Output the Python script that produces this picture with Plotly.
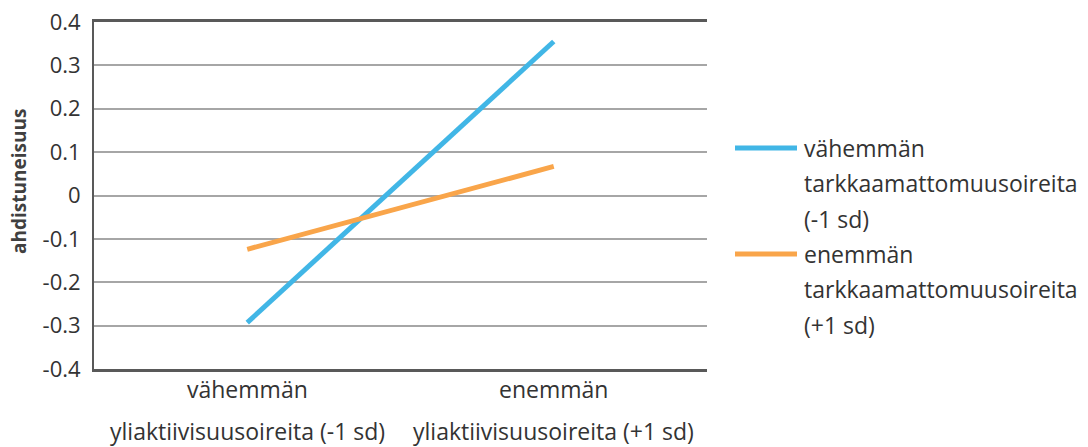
import plotly.graph_objects as go

# ---- data ----
categories = ["low_hyper", "high_hyper"]
cat_line1 = ["vähemmän", "enemmän"]
cat_line2 = ["yliaktiivisuusoireita (-1 sd)", "yliaktiivisuusoireita (+1 sd)"]
series_names = [
    ["vähemmän", "tarkkaamattomuusoireita", "(-1 sd)"],
    ["enemmän", "tarkkaamattomuusoireita", "(+1 sd)"],
]
blue_values = [-0.293, 0.355]
orange_values = [-0.124, 0.067]
y_tickvals = [0.4, 0.3, 0.2, 0.1, 0, -0.1, -0.2, -0.3, -0.4]
y_ticktext = ["0.4", "0.3", "0.2", "0.1", "0", "-0.1", "-0.2", "-0.3", "-0.4"]
y_title = "ahdistuneisuus"

colors = ["#41B6E6", "#F9A54A"]
FONT = "Open Sans"
TXT = "#333333"

W, H = 1088, 447
# target plot area in page pixels: x 94..707, y 22..369
ML, MT = 94, 22
MR = W - 707
MB = H - 369
PW, PH = W - ML - MR, H - MT - MB


def px_x(px):
    return (px - ML) / PW


def px_y(py):
    return (H - MB - py) / PH


fig = go.Figure()
for vals, name, col in zip([blue_values, orange_values], series_names, colors):
    fig.add_trace(go.Scatter(
        x=categories, y=vals, mode="lines", name=" ".join(name),
        line=dict(color=col, width=5), showlegend=False,
    ))

# category labels (two lines, wide spacing)
for cat, l1, l2 in zip(categories, cat_line1, cat_line2):
    fig.add_annotation(x=cat, xref="x", y=px_y(389), yref="paper", text=l1,
                       showarrow=False, yanchor="middle", borderpad=0,
                       font=dict(family=FONT, size=23, color=TXT))
    fig.add_annotation(x=cat, xref="x", y=px_y(431), yref="paper", text=l2,
                       showarrow=False, yanchor="middle", borderpad=0,
                       font=dict(family=FONT, size=23, color=TXT))

# legend (manual, wide line spacing)
legend_rows = [[148, 183, 219], [254, 289, 325]]
for name, col, rows in zip(series_names, colors, legend_rows):
    fig.add_shape(type="line", xref="paper", yref="paper",
                  x0=px_x(735), x1=px_x(797), y0=px_y(rows[0]), y1=px_y(rows[0]),
                  line=dict(color=col, width=5))
    for txt, ry in zip(name, rows):
        fig.add_annotation(x=px_x(803), xref="paper", y=px_y(ry), yref="paper",
                           text=txt, showarrow=False, xanchor="left", yanchor="middle",
                           borderpad=0,
                           font=dict(family=FONT, size=23, color=TXT))

# y-axis title
fig.add_annotation(x=px_x(19), xref="paper", y=px_y(182), yref="paper",
                   text="<b>" + y_title + "</b>", textangle=-90, showarrow=False,
                   xanchor="center", yanchor="middle",
                   font=dict(family=FONT, size=19, color="#404040"))

fig.update_layout(
    width=W, height=H,
    margin=dict(l=ML, r=MR, t=MT, b=MB, autoexpand=False),
    paper_bgcolor="white", plot_bgcolor="white",
    font=dict(family=FONT, size=22, color=TXT),
    showlegend=False,
    xaxis=dict(
        type="category", range=[-0.5, 1.5], showticklabels=False,
        showgrid=False, showline=True, mirror=True, linecolor="#595959", linewidth=3,
        ticks="", zeroline=False,
    ),
    yaxis=dict(
        range=[-0.4, 0.4], tickvals=y_tickvals, ticktext=y_ticktext,
        showgrid=True, gridcolor="#A6A6A6", gridwidth=2, zeroline=False,
        showline=True, linecolor="#595959", linewidth=2, ticks="",
        tickfont=dict(family=FONT, size=22, color=TXT),
        ticklabelstandoff=7, ticklabeloverflow="allow",
        automargin=False,
    ),
)

fig.write_html("out.html", config={"displayModeBar": False},
               post_script="document.body.style.margin='0';")
